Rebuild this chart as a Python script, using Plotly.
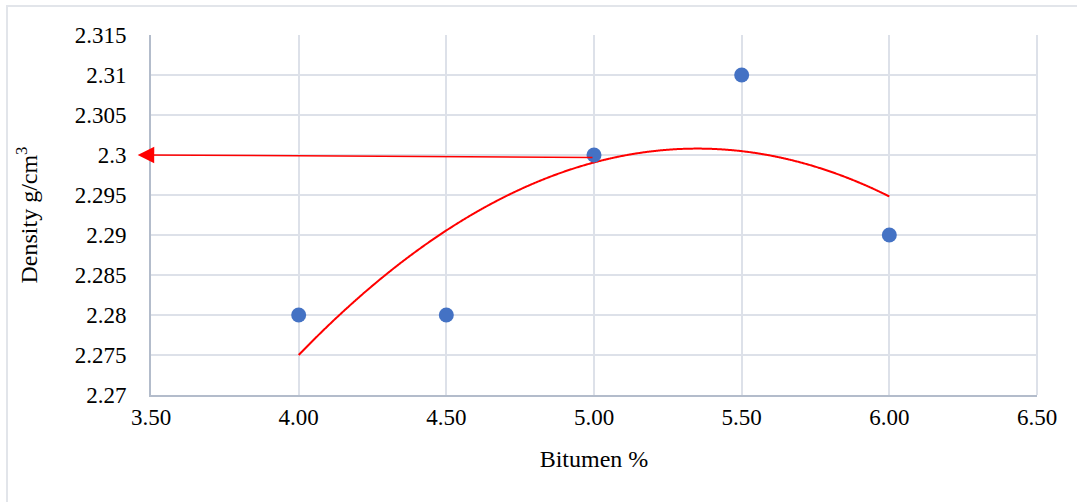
import plotly.graph_objects as go
import numpy as np

# Measured density for each bitumen content
bitumen_pct = [4.0, 4.5, 5.0, 5.5, 6.0]
density = [2.28, 2.28, 2.30, 2.31, 2.29]

# Second-order trendline: density = peak - k * (x - x_peak)^2, drawn over 4.0..6.0
trend_peak_x = 5.35
trend_peak_y = 2.3008
trend_k = 0.01416
trend_range = [4.0, 6.0]

# Optimum density read-off arrow (from the curve back to the y axis)
arrow_tail = (5.0, 2.2997)
arrow_tip = (3.455, 2.300)

x_ticks = [3.5, 4.0, 4.5, 5.0, 5.5, 6.0, 6.5]
y_ticks = [2.27, 2.275, 2.28, 2.285, 2.29, 2.295, 2.3, 2.305, 2.31, 2.315]
y_tick_text = ["2.27", "2.275", "2.28", "2.285", "2.29", "2.295", "2.3", "2.305", "2.31", "2.315"]

FONT = "Liberation Serif, Times New Roman, serif"
GRID = "#dde1e9"
AXIS = "#b3bccb"

xs = np.linspace(trend_range[0], trend_range[1], 400)
ys = trend_peak_y - trend_k * (xs - trend_peak_x) ** 2

fig = go.Figure()
fig.add_trace(go.Scatter(x=xs, y=ys, mode="lines",
                         line=dict(color="#ff0000", width=2, shape="spline"), hoverinfo="skip"))
fig.add_trace(go.Scatter(x=bitumen_pct, y=density, mode="markers",
                         marker=dict(color="#4472c4", size=15)))

fig.add_annotation(x=arrow_tip[0], y=arrow_tip[1], ax=arrow_tail[0], ay=arrow_tail[1],
                   xref="x", yref="y", axref="x", ayref="y", text="",
                   showarrow=True, arrowhead=2, arrowsize=2.2, arrowwidth=1.5,
                   arrowcolor="#ff0000", standoff=0, startstandoff=0)

W, H = 1077, 502
L, R, T, B = 151, 40, 35, 107
pw, ph = W - L - R, H - T - B
# light outer frame, open towards the right and bottom edges
fig.add_shape(type="rect", xref="paper", yref="paper",
              x0=(7 - L) / pw, x1=(W + 20 - L) / pw,
              y0=-(H + 20 - T - ph) / ph, y1=1 + (T - 6) / ph,
              line=dict(color="#e2e5ea", width=2), layer="below")

fig.update_layout(
    width=W, height=H,
    margin=dict(l=L, r=R, t=T, b=B),
    paper_bgcolor="white", plot_bgcolor="white",
    showlegend=False,
    font=dict(family=FONT, size=23, color="#000000"),
    xaxis=dict(range=[3.5, 6.5], tickvals=x_ticks, tickformat=".2f",
               showgrid=True, gridcolor=GRID, gridwidth=2,
               showline=True, linecolor=AXIS, linewidth=2, mirror=False,
               zeroline=False, ticks="", ticklen=0,
               title=dict(text="Bitumen %", font=dict(size=24), standoff=22)),
    yaxis=dict(range=[2.27, 2.315], tickvals=y_ticks, ticktext=y_tick_text,
               showgrid=True, gridcolor=GRID, gridwidth=2,
               showline=True, linecolor=AXIS, linewidth=2,
               zeroline=False, ticks="", ticklen=0, ticklabelstandoff=18,
               title=dict(text="Density g/cm<sup>3</sup>", font=dict(size=24), standoff=30)),
)
# right edge of plot area shows a grid-coloured border
fig.add_shape(type="line", xref="paper", yref="paper", x0=1, x1=1, y0=0, y1=1,
              line=dict(color=GRID, width=2), layer="below")

fig.write_html("out.html")
